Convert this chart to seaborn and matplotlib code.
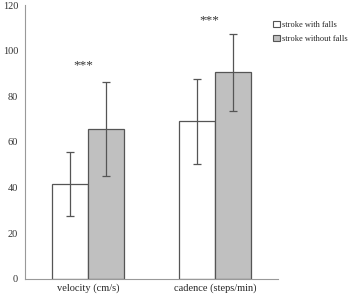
import matplotlib
matplotlib.use("Agg")
import matplotlib.pyplot as plt
import seaborn as sns
import pandas as pd
from matplotlib.patches import Patch

categories = ["velocity (cm/s)", "cadence (steps/min)"]
groups = ["stroke with falls", "stroke without falls"]
with_falls = [41.5, 69.0]
with_falls_sd = [14.0, 18.8]
without_falls = [65.8, 90.5]
without_falls_sd = [20.5, 16.9]
stars_y = [93.5, 113.5]
yticks = [0, 20, 40, 60, 80, 100, 120]

df = pd.DataFrame({
    "category": categories * 2,
    "group": [groups[0]] * 2 + [groups[1]] * 2,
    "value": with_falls + without_falls,
    "sd": with_falls_sd + without_falls_sd,
})

sns.set_style("white")
plt.rcParams["font.family"] = ["Liberation Serif", "DejaVu Serif"]

fig = plt.figure(figsize=(3.52, 2.97), dpi=100)
ax = fig.add_axes([0.071, 0.061, 0.719, 0.922])
colors = {groups[0]: "#ffffff", groups[1]: "#c0c0c0"}
sns.barplot(data=df, x="category", y="value", hue="group", order=categories,
            hue_order=groups, palette=colors, width=0.57, errorbar=None,
            edgecolor="#555555", linewidth=0.9, ax=ax, legend=False)

# error bars from patch centers
for container, g in zip(ax.containers, groups):
    sub = df[df["group"] == g].set_index("category").loc[categories]
    xs = [p.get_x() + p.get_width() / 2 for p in container.patches]
    ax.errorbar(xs, sub["value"], yerr=sub["sd"], fmt="none", ecolor="#555555",
                elinewidth=0.9, capsize=3, capthick=0.9)

for i, sy in enumerate(stars_y):
    ax.text(i - 0.04, sy, "***", ha="center", va="center", fontsize=9.5, color="#333333")

ax.set_xlim(-0.5, 1.5)
ax.set_ylim(0, 120)
ax.set_yticks(yticks)
ax.set_xticks([-0.5, 0.5, 1.5])
ax.set_xticklabels([])
ax.set_xticks([0, 1], minor=True)
ax.set_xticklabels(categories, minor=True, fontsize=7.5)
ax.tick_params(axis="x", which="minor", length=0, pad=3)
ax.tick_params(axis="x", which="major", length=3, color="#999999", direction="out")
ax.tick_params(axis="y", length=3, color="#999999", direction="out", labelsize=7.5, pad=2,
               labelcolor="#333333")
ax.set_xlabel("")
ax.set_ylabel("")
for s in ["top", "right"]:
    ax.spines[s].set_visible(False)
for s in ["left", "bottom"]:
    ax.spines[s].set_color("#999999")
    ax.spines[s].set_linewidth(0.8)

handles = [Patch(facecolor=colors[g], edgecolor="#555555", linewidth=0.8) for g in groups]
fig.legend(handles, groups, loc="upper left", bbox_to_anchor=(0.765, 0.945),
           frameon=False, fontsize=6.0, handlelength=0.75, handleheight=0.75,
           handletextpad=0.25, labelspacing=0.75, borderpad=0)

fig.savefig("out.png", dpi=100)
